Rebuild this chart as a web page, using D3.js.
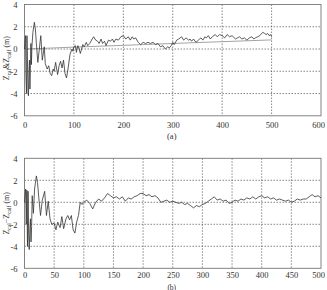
<html>
<head>
  <script src="https://d3js.org/d3.v7.min.js"></script>
  <style>
    body { margin: 0; background: #fff; }
    svg text { opacity: 0.999; }
  </style>
</head>
<body>
<script>

// panel (a): Z_cal (noisy) and Z_calf (trend)
let hoursA = [0, 2, 3, 4, 5, 6, 7, 8, 9, 10, 11, 12, 13, 14, 15, 17, 20, 22, 24, 27, 30, 33, 36, 40, 42, 46, 49, 52, 55, 58, 60, 63, 67, 70, 73, 76, 79, 82, 85, 88, 92, 96, 98,
  100, 103, 105, 108, 110, 113, 118, 121, 125, 128, 132, 137, 140, 144, 148, 151, 155, 158, 162, 165, 170, 174, 178, 181, 185, 190, 195, 200, 205, 210, 214, 218, 221, 225, 230, 235, 240, 245, 250, 255, 260, 265, 270, 275, 280, 285, 290, 293, 297,
  300, 303, 308, 312, 318, 322, 327, 332, 335, 338, 342, 347, 352, 357, 361, 365, 368, 372, 376, 380, 386, 390, 395,
  400, 405, 410, 415, 420, 427, 431, 435, 440, 445, 450, 455, 460, 464, 467, 472, 476, 482, 486, 489, 492, 495, 498, 500];
let zA = [0, 1.2, -2.5, -4.0, 1.2, -1.0, -3.8, -4.2, -2.0, -1.0, -3.6, -1.5, 0.5, -1.4, 0.2, 1.5, 2.4, 1.8, 0.5, -1.2, 0.0, 1.2, -1.0, 0.2, -1.3, -1.8, -1.5, -2.2, -2.4, -1.8, -2.0, -1.2, -2.3, -1.5, -1.1, -1.7, -1.0, -2.2, -2.6, -1.8, -0.5, 0.0, -0.2,
  0.2, 0.3, -0.3, 0.3, 0.1, -0.4, 0.4, 0.2, 0.6, 0.3, 0.5, 0.9, 1.1, 0.8, 0.7, 0.5, 0.9, 0.5, 0.7, 0.3, 0.8, 0.7, 0.9, 0.6, 0.9, 0.8, 1.1, 1.2, 0.9, 1.1, 0.8, 1.1, 0.9, 1.0, 0.6, 0.4, 0.6, 0.5, 0.6, 0.5, 0.6, 0.4, 0.5, 0.2, 0.3, 0.0, 0.2, 0.1, 0.3,
  0.6, 0.4, 0.8, 0.9, 1.1, 0.8, 1.0, 0.8, 0.9, 0.7, 0.9, 0.6, 0.8, 1.0, 0.8, 1.1, 1.0, 1.2, 0.9, 1.1, 1.3, 1.1, 1.3,
  1.2, 1.0, 1.3, 1.1, 1.2, 0.9, 1.0, 1.1, 0.9, 1.0, 0.8, 1.0, 1.1, 0.9, 1.0, 1.1, 1.2, 1.5, 1.4, 1.3, 1.4, 1.2, 1.3, 1.1];
let hoursTrend = [5, 100, 200, 300, 400, 500];
let zTrend = [0.0, 0.17, 0.33, 0.5, 0.66, 0.82];

// panel (b): difference Z_cal - Z_calf
let hoursB = [0, 2, 3, 4, 5, 6, 7, 8, 9, 10, 11, 12, 13, 15, 17, 20, 22, 24, 27, 30, 34, 37, 40, 43, 46, 50, 53, 56, 60, 63, 66, 70, 73, 76, 79, 82, 85, 88, 91, 94, 97,
  100, 105, 110, 115, 120, 125, 130, 135, 140, 145, 150, 155, 160, 165, 170, 175, 180, 185, 190, 195, 200, 205, 210, 215, 220, 225, 230, 235, 240, 245, 250, 255, 260, 265, 270, 275, 280, 285, 290, 295,
  300, 305, 310, 315, 320, 325, 330, 335, 340, 345, 350, 355, 360, 365, 370, 375, 380, 385, 390, 395,
  400, 405, 410, 415, 420, 425, 430, 435, 440, 445, 450, 455, 460, 465, 470, 475, 480, 485, 490, 495, 500];
let dB = [0, 1.2, -2.0, 1.1, -4.0, 1.0, -3.0, -4.3, -2.5, -1.5, -3.6, -2.2, 0.6, -1.0, 1.2, 2.4, 1.8, 0.5, -1.2, 0.2, 1.0, -1.2, 0.1, -1.5, -2.0, -1.9, -2.5, -1.8, -2.3, -1.3, -2.4, -1.5, -1.2, -1.6, -1.2, -2.5, -2.8, -1.8, -1.2, 0.0, -0.2,
  0.0, 0.2, -0.1, -0.6, 0.0, 0.3, 0.1, 0.4, 0.8, 0.6, 0.4, 0.5, 0.3, 0.5, 0.1, 0.4, 0.3, 0.5, 0.6, 0.8, 0.8, 0.6, 0.7, 0.5, 0.6, 0.4, 0.0, 0.1, 0.2, 0.0, 0.1, 0.0, -0.1, 0.0, -0.2, -0.1, -0.3, -0.5, -0.3, -0.4,
  -0.2, -0.1, 0.1, 0.3, 0.5, 0.2, 0.3, 0.1, 0.2, -0.1, 0.0, 0.2, 0.1, 0.3, 0.2, 0.4, 0.3, 0.5, 0.3, 0.5,
  0.6, 0.4, 0.5, 0.3, 0.4, 0.2, 0.3, 0.2, 0.1, 0.2, 0.0, 0.1, 0.3, 0.2, 0.3, 0.3, 0.5, 0.7, 0.5, 0.6, 0.4];

let ticksA = [0, 100, 200, 300, 400, 500, 600];
let ticksB = [0, 50, 100, 150, 200, 250, 300, 350, 400, 450, 500];
let ticksY = [-6, -4, -2, 0, 2, 4];

let canvasW = 327;
let canvasH = 290;
let font = "'Liberation Serif', 'DejaVu Serif', serif";

let svg = d3.select("body").append("svg")
  .attr("width", canvasW)
  .attr("height", canvasH)
  .style("background-color", "white");

function panel(cfg) {
  let x = d3.scaleLinear().domain(cfg.xDomain).range([24.5, 321]);
  let y = d3.scaleLinear().domain([-6, 4]).range([cfg.bottom, cfg.top]);
  let g = svg.append("g");

  // dotted grid
  g.selectAll(".vg").data(cfg.xTicks.slice(1, -1)).enter().append("line")
    .attr("x1", d => x(d)).attr("x2", d => x(d))
    .attr("y1", cfg.top).attr("y2", cfg.bottom)
    .attr("stroke", "#555").attr("stroke-width", 0.7)
    .attr("stroke-dasharray", "1.5,1.5");
  g.selectAll(".hg").data(ticksY.slice(1, -1)).enter().append("line")
    .attr("x1", x.range()[0]).attr("x2", x.range()[1])
    .attr("y1", d => y(d)).attr("y2", d => y(d))
    .attr("stroke", "#555").attr("stroke-width", 0.7)
    .attr("stroke-dasharray", "1.5,1.5");

  // axes (labels only, frame drawn below)
  let xAxis = g.append("g")
    .attr("transform", "translate(0," + cfg.bottom + ")")
    .call(d3.axisBottom(x).tickValues(cfg.xTicks).tickSize(0).tickPadding(cfg.xPad).tickFormat(d => String(d)));
  let yAxis = g.append("g")
    .attr("transform", "translate(" + x.range()[0] + ",0)")
    .call(d3.axisLeft(y).tickValues(ticksY).tickSize(0).tickPadding(7).tickFormat(d => String(d)));
  [xAxis, yAxis].forEach(a => {
    a.select(".domain").remove();
    a.selectAll("text").attr("font-family", font).attr("font-size", "8.5px").attr("fill", "#333");
  });
  // last x label sits a little inside the frame edge
  xAxis.selectAll(".tick text").filter(d => d === cfg.xDomain[1]).attr("dx", -3);

  // frame
  g.append("rect")
    .attr("x", x.range()[0]).attr("y", cfg.top)
    .attr("width", x.range()[1] - x.range()[0])
    .attr("height", cfg.bottom - cfg.top)
    .attr("fill", "none").attr("stroke", "#777").attr("stroke-width", 0.9);

  let line = d3.line().x(d => x(d[0])).y(d => y(d[1]));
  cfg.series.forEach(s => {
    g.append("path")
      .datum(d3.zip(s.xs, s.ys))
      .attr("d", line)
      .attr("fill", "none")
      .attr("stroke", s.color)
      .attr("stroke-width", s.width)
      .attr("stroke-linejoin", "round");
  });

  // rotated y label with subscripts
  let mid = (cfg.top + cfg.bottom) / 2 + cfg.labelShift;
  let lab = g.append("text")
    .attr("transform", "translate(9," + mid + ") rotate(-90)")
    .attr("text-anchor", "middle")
    .attr("font-family", font)
    .attr("font-size", "8px")
    .attr("fill", "#333");
  cfg.yLabel.forEach(p => {
    let t = lab.append("tspan").text(p.t);
    if (p.sub) t.attr("font-size", "5.5px").attr("dy", "2");
    else if (p.up) t.attr("dy", "-2");
  });

  svg.append("text")
    .attr("x", (x.range()[0] + x.range()[1]) / 2 - 1)
    .attr("y", cfg.captionY)
    .attr("text-anchor", "middle")
    .attr("font-family", font)
    .attr("font-size", cfg.captionSize)
    .attr("fill", "#333")
    .text(cfg.caption);
}

panel({
  xDomain: [0, 600], xTicks: ticksA, top: 4.5, bottom: 115.8, xPad: 6,
  series: [
    { xs: hoursTrend, ys: zTrend, color: "#999", width: 0.9 },
    { xs: hoursA, ys: zA, color: "#333", width: 0.8 }
  ],
  yLabel: [{ t: "Z" }, { t: "cal", sub: true }, { t: "&Z", up: true }, { t: "calf", sub: true }, { t: " (m)", up: true }],
  labelShift: -2, caption: "(a)", captionY: 139, captionSize: "8.5px"
});

panel({
  xDomain: [0, 500], xTicks: ticksB, top: 158.3, bottom: 268.3, xPad: 4,
  series: [
    { xs: hoursB, ys: dB, color: "#333", width: 0.8 }
  ],
  yLabel: [{ t: "Z" }, { t: "cal", sub: true }, { t: "\u2212Z", up: true }, { t: "calf", sub: true }, { t: " (m)", up: true }],
  labelShift: 0, caption: "(b)", captionY: 289.5, captionSize: "7.5px"
});

</script>
</body>
</html>
